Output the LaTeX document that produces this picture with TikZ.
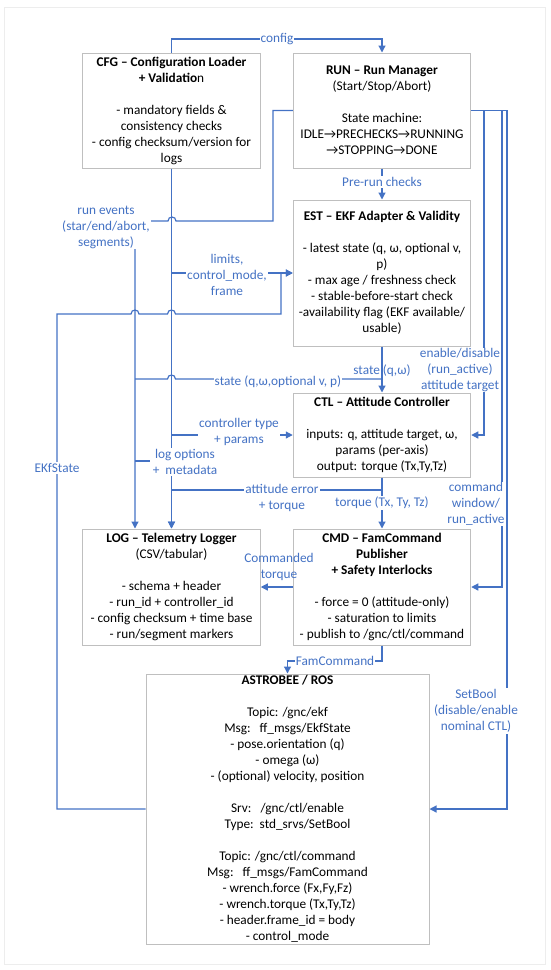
\documentclass[tikz,border=0pt]{standalone}
\usepackage{fontspec}
\setmainfont{Carlito}
\usetikzlibrary{arrows.meta,calc}
\definecolor{lblue}{HTML}{4472C4}
\definecolor{boxgray}{HTML}{BFBFBF}
\begin{document}
\begin{tikzpicture}[x=1pt,y=-1pt,
  box/.style={draw=boxgray,line width=1pt,fill=white,align=center,inner sep=0pt,font=\fontsize{13.3}{16}\selectfont,minimum width=177.5pt},
  lbl/.style={text=lblue,align=center,font=\fontsize{13.3}{16}\selectfont,inner sep=1pt},
  wlbl/.style={lbl,fill=white},
  conn/.style={draw=lblue,line width=1.2pt},
  arr/.style={conn,-{Triangle[length=7pt,width=7pt]}},
]
\useasboundingbox (0,0) rectangle (550,970);
\draw[black!7,line width=1pt] (4,7) rectangle (545,964);

% boxes
\node[box,minimum height=115pt] (cfg) at (171.5,110.5) {\textbf{CFG – Configuration Loader}\\\textbf{+ Validatio}n\\[16pt]- mandatory fields \&\\consistency checks\\- config checksum/version for\\logs};
\node[box,minimum height=115pt] (run) at (382,110.5) {\textbf{RUN – Run Manager}\\(Start/Stop/Abort)\\[16pt]State machine:\\IDLE→PRECHECKS→RUNNING\\→STOPPING→DONE};
\node[box,minimum height=146pt] (est) at (382,273) {\textbf{EST – EKF Adapter \& Validity}\\[16pt]- latest state (q, ω, optional v,\\p)\\- max age / freshness check\\- stable-before-start check\\-availability flag (EKF available/\\usable)};
\node[box,minimum height=84pt] (ctl) at (382,435) {\textbf{CTL – Attitude Controller}\\[16pt]inputs: q, attitude target, ω,\\params (per-axis)\\output: torque (Tx,Ty,Tz)};
\node[box,minimum height=116pt] (log) at (171.5,587) {\textbf{LOG – Telemetry Logger}\\(CSV/tabular)\\[16pt]- schema + header\\- run\_id + controller\_id\\- config checksum + time base\\- run/segment markers};
\node[box,minimum height=116pt] (cmd) at (382,587) {\textbf{CMD – FamCommand}\\\textbf{Publisher}\\\textbf{+ Safety Interlocks}\\[16pt]- force = 0 (attitude-only)\\- saturation to limits\\- publish to /gnc/ctl/command};
\node[box,minimum width=283pt,minimum height=270pt] (ros) at (287.5,809) {\textbf{ASTROBEE / ROS}\\[16pt]Topic: /gnc/ekf\\Msg:\ \ \ ff\_msgs/EkfState\\- pose.orientation (q)\\- omega (ω)\\- (optional) velocity, position\\[16pt]Srv:\ \ \ /gnc/ctl/enable\\Type:\ \ std\_srvs/SetBool\\[16pt]Topic: /gnc/ctl/command\\Msg:\ \ \ ff\_msgs/FamCommand\\- wrench.force (Fx,Fy,Fz)\\- wrench.torque (Tx,Ty,Tz)\\- header.frame\_id = body\\- control\_mode};

% connectors
\coordinate (logL) at ($(log.north)+(-36.5,0)$);
\draw[arr] (cfg.north) -- (171.5,39) -- (382,39) -- (run.north);
\draw[arr] (run.south) -- (est.north);
\draw[arr] (run.west) -- (273,110.5) -- (273,221) -- (176,221) .. controls (176,215.7) and (168,215.7) .. (168,221) -- (135,221) -- (logL);
\draw[arr] (cfg.south) -- (log.north);
\draw[arr] (171.5,273) -- (est.west);
\draw[arr] (ros.west) -- (57,809) -- (57,314) -- (131,314) .. controls (131,308.7) and (139,308.7) .. (139,314) -- (167.5,314) .. controls (167.5,308.7) and (175.5,308.7) .. (175.5,314) -- (281,314) -- (281,273) -- (est.west);
\draw[arr] (est.south) -- (ctl.north);
\draw[conn] (382,379) -- (175.5,379) .. controls (175.5,373.7) and (167.5,373.7) .. (167.5,379) -- (135,379);
\draw[arr] (171.5,435) -- (ctl.west);
\draw[conn] (135,461) -- (150,461);
\draw[arr] (ctl.south) -- (382,490) -- (171.5,490) -- (log.north);
\draw[arr] (ctl.south) -- (cmd.north);
\draw[arr] (cmd.west) -- (log.east);
\draw[arr] (cmd.south) -- (382,661) -- (287.5,661) -- (ros.north);
\draw[arr] (run.east) -- (484,110.5) -- (484,435) -- (ctl.east);
\draw[arr] (run.east) -- (502,110.5) -- (502,587) -- (cmd.east);
\draw[arr] (run.east) -- (507,110.5) -- (507,809) -- (ros.east);

% labels
\node[wlbl] (lcfg) at (277,39) {config};
\node[wlbl] (lpre) at (382,182) {Pre-run checks};
\node[wlbl] (lrun) at (106,227) {run events\\(star/end/abort,\\segments)};
\node[wlbl] (llim) at (227,275) {limits,\\control\_mode,\\frame};
\node[lbl] (lsq) at (382,371) {state (q,ω)};
\node[wlbl] (lsall) at (278,382) {state (q,ω,optional v, p)};
\node[wlbl] (lctype) at (239,432) {controller type\\+ params};
\node[wlbl] (llog) at (185,462) {log options\\+\ \ metadata};
\node[wlbl] (latt) at (282,497.5) {attitude error\\+ torque};
\node[wlbl] (ltorq) at (382,503) {torque (Tx, Ty, Tz)};
\node[lbl] (lcmdt) at (279,567) {Commanded\\torque};
\node[wlbl] (lfam) at (335,661) {FamCommand};
\node[wlbl,inner sep=0.5pt] (len) at (460,370) {enable/disable\\(run\_active)\\attitude target};
\node[wlbl,inner sep=0.5pt] (lcw) at (476,504) {command\\window/\\run\_active};
\node[wlbl] (lsb) at (476,711) {SetBool\\(disable/enable\\nominal CTL)};
\node[wlbl] (lekf) at (57,468) {EKfState};
\end{tikzpicture}
\end{document}
